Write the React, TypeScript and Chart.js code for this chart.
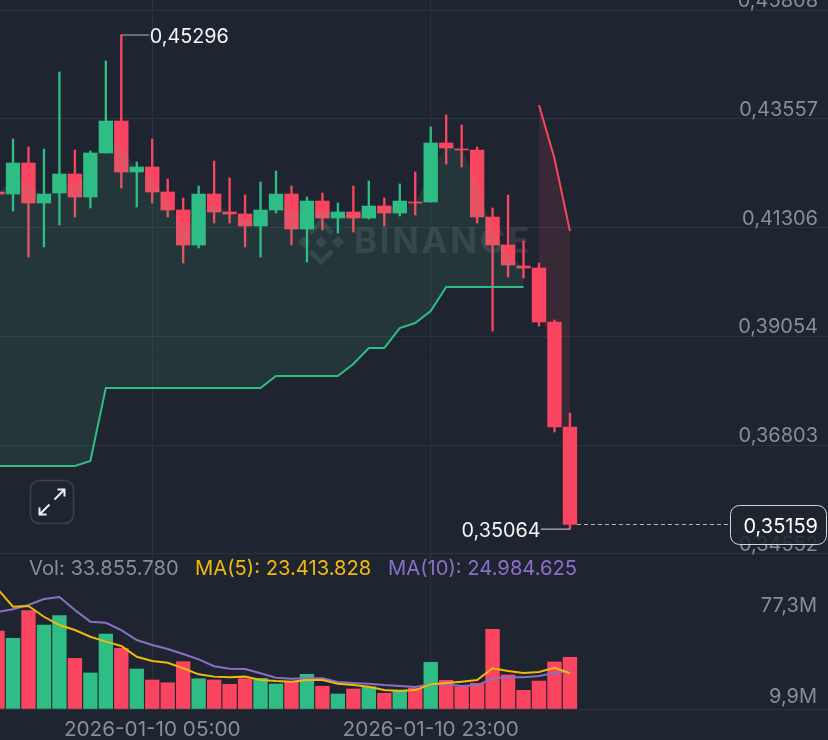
import React, { useEffect, useRef } from "react";
import { Chart, registerables } from "chart.js";

Chart.register(...registerables);

// One entry per hourly candle, oldest first.
const opens = [0.42045,0.42003,0.42645,0.41817,0.42024,0.42418,0.41941,0.42853,0.43515,0.42459,0.42563,0.42045,0.41672,0.40947,0.42003,0.41631,0.41589,0.41341,0.41672,0.42003,0.41279,0.41858,0.41506,0.41631,0.41506,0.41755,0.41610,0.41838,0.41838,0.43060,0.42935,0.42915,0.41527,0.40947,0.40512,0.40471,0.39353,0.37178];
const highs = [0.42045,0.43142,0.42977,0.42935,0.44530,0.42915,0.42894,0.44758,0.45296,0.42666,0.43142,0.42314,0.41921,0.42169,0.42687,0.42335,0.41983,0.42252,0.42480,0.42169,0.41941,0.42024,0.41817,0.42169,0.42273,0.41921,0.42211,0.42459,0.43391,0.43639,0.43432,0.42977,0.41714,0.41983,0.41030,0.40575,0.39394,0.37468];
const lows = [0.42003,0.41651,0.40699,0.40906,0.41361,0.41527,0.41714,0.42853,0.42128,0.41734,0.41817,0.41527,0.40575,0.40885,0.41403,0.41403,0.40906,0.40699,0.41610,0.40947,0.40595,0.41258,0.41196,0.41217,0.41486,0.41341,0.41548,0.41569,0.41838,0.42625,0.42563,0.41403,0.39166,0.40285,0.40264,0.39270,0.37075,0.35064];
const closes = [0.42003,0.42645,0.41817,0.42003,0.42418,0.41941,0.42853,0.43515,0.42459,0.42563,0.42045,0.41672,0.40947,0.42003,0.41631,0.41589,0.41341,0.41672,0.42003,0.41279,0.41858,0.41506,0.41631,0.41506,0.41755,0.41610,0.41858,0.41817,0.43060,0.42956,0.42915,0.41527,0.40947,0.40533,0.40471,0.39353,0.37178,0.35159];
const volumes = [51.1,46.3,64.4,55.0,61.1,33.2,23.6,49.1,39.7,26.2,19.0,17.2,31.0,19.8,19.0,16.2,19.8,20.1,16.4,17.7,22.7,14.9,9.8,13.1,14.6,10.3,12.4,13.6,30.6,18.8,14.6,16.8,52.2,22.3,12.2,18.3,30.8,33.86];
const ma5 = [78.6,67.0,67.5,60.4,55.0,51.7,47.3,44.1,41.3,34.2,31.4,30.3,26.7,22.7,21.2,20.8,21.2,19.0,18.3,17.9,19.0,19.0,16.6,15.7,14.6,12.4,11.8,12.4,16.2,17.0,17.9,19.0,26.7,24.9,23.6,24.2,27.0,23.41];
const ma10 = [63.5,65.3,68.1,72.0,73.3,64.8,57.2,56.5,51.7,45.2,41.9,39.3,36.0,32.5,28.0,26.4,26.2,23.4,20.5,19.8,20.1,20.1,17.7,17.0,16.6,15.7,15.1,14.4,16.2,16.2,15.1,15.5,20.1,20.8,20.8,21.6,23.6,24.98];
const trendUp = [0.36371,0.36371,0.36371,0.36371,0.36371,0.36371,0.36474,0.37986,0.37986,0.37986,0.37986,0.37986,0.37986,0.37986,0.37986,0.37986,0.37986,0.37986,0.38234,0.38234,0.38234,0.38234,0.38234,0.38483,0.38814,0.38814,0.39228,0.39332,0.39580,0.40077,0.40077,0.40077,0.40077,0.40077,0.40077,null,null,null];
const trendDown = [null,null,null,null,null,null,null,null,null,null,null,null,null,null,null,null,null,null,null,null,null,null,null,null,null,null,null,null,null,null,null,null,null,null,null,0.43847,0.42739,0.41237];

const priceTicks = [0.45808,0.43557,0.41306,0.39054,0.36803,0.34552];
const priceTickLabels = ["0,45808","0,43557","0,41306","0,39054","0,36803","0,34552"];
const volumeTicks = [67.3,8.05,0];
const volumeTickLabels = ["77,3M","9,9M",""];
const timeTicks = [10,28];
const timeTickLabels = ["2026-01-10 05:00","2026-01-10 23:00"];
const legendVol = "Vol: 33.855.780";
const legendMa5 = "MA(5): 23.413.828";
const legendMa10 = "MA(10): 24.984.625";
const watermark = "BINANCE";

const BG = "#1e2530";
const GREEN = "#2ebd85";
const RED = "#fb4560";
const GRID = "#2c333f";
const AXIS_TEXT = "#848e9c";
const YELLOW = "#f0b90b";
const PURPLE = "#8b6fc6";
const FONT = "Inter";

const isUp = (k: number) => closes[k] >= opens[k];
const indexes = opens.map((_, k) => k);
const bodyMid = opens.map((o, k) => (o + closes[k]) / 2);
const fmt = (v: number) => v.toFixed(5).replace(".", ",");

function bodies(up: boolean) {
  return indexes.filter((k) => isUp(k) === up).map((k) => ({ x: k, y: [Math.min(opens[k], closes[k]), Math.max(opens[k], closes[k])] }));
}
function wicks(up: boolean) {
  return indexes.filter((k) => isUp(k) === up).map((k) => ({ x: k, y: [lows[k], highs[k]] }));
}
function vols(up: boolean) {
  return indexes.filter((k) => isUp(k) === up).map((k) => ({ x: k, y: volumes[k] }));
}
const series = (arr: (number | null)[]) => arr.map((y, k) => ({ x: k, y }));

function roundRect(ctx: CanvasRenderingContext2D, x: number, y: number, w: number, h: number, r: number) {
  ctx.beginPath();
  ctx.roundRect(x, y, w, h, r);
}

const zeroPadding = (s: any) => {
  s.paddingTop = 0; s.paddingBottom = 0; s.paddingLeft = 0; s.paddingRight = 0;
};

const watermarkPlugin = {
  id: "watermark",
  beforeDatasetsDraw(chart: any) {
    const ctx: CanvasRenderingContext2D = chart.ctx;
    ctx.save();
    const c = "rgba(132,142,156,0.2)";
    ctx.fillStyle = c;
    ctx.font = `700 35px ${FONT}`;
    (ctx as any).letterSpacing = "2.6px";
    ctx.textAlign = "left";
    ctx.textBaseline = "middle";
    ctx.fillText(watermark, 354, 242);
    (ctx as any).letterSpacing = "0px";
    // logo
    const cx = 321, cy = 242;
    const diamond = (x: number, y: number, r: number) => {
      ctx.beginPath();
      ctx.moveTo(x, y - r); ctx.lineTo(x + r, y); ctx.lineTo(x, y + r); ctx.lineTo(x - r, y); ctx.closePath();
      ctx.fill();
    };
    diamond(cx, cy, 6);
    diamond(cx - 17, cy, 6);
    diamond(cx + 17, cy, 6);
    ctx.strokeStyle = c;
    ctx.lineWidth = 5;
    ctx.beginPath();
    ctx.moveTo(cx - 11, cy - 9); ctx.lineTo(cx, cy - 20); ctx.lineTo(cx + 11, cy - 9);
    ctx.moveTo(cx - 11, cy + 9); ctx.lineTo(cx, cy + 20); ctx.lineTo(cx + 11, cy + 9);
    ctx.stroke();
    ctx.restore();
  },
};

const overlayPlugin = {
  id: "overlay",
  afterDraw(chart: any) {
    const ctx: CanvasRenderingContext2D = chart.ctx;
    const x = chart.scales.x, y = chart.scales.y;
    ctx.save();
    ctx.textBaseline = "middle";
    ctx.font = `400 19.8px ${FONT}`;

    // highest price marker
    const hi = highs.indexOf(Math.max(...highs));
    const hx = x.getPixelForValue(hi), hy = y.getPixelForValue(highs[hi]);
    ctx.strokeStyle = "#b0b4ba";
    ctx.lineWidth = 1;
    ctx.beginPath(); ctx.moveTo(hx, hy); ctx.lineTo(hx + 28, hy); ctx.stroke();
    ctx.fillStyle = "#f4f5f6";
    ctx.textAlign = "left";
    ctx.fillText(fmt(highs[hi]), hx + 28.5, hy + 2);

    // lowest price marker
    const lo = lows.indexOf(Math.min(...lows));
    const lx = x.getPixelForValue(lo), ly = y.getPixelForValue(lows[lo]);
    ctx.strokeStyle = "#d5d7da";
    ctx.beginPath(); ctx.moveTo(lx, ly); ctx.lineTo(lx - 29, ly); ctx.stroke();
    ctx.textAlign = "right";
    ctx.fillText(fmt(lows[lo]), lx - 29.5, ly + 2);

    // last price line and box
    const last = closes[closes.length - 1];
    const py = y.getPixelForValue(last);
    ctx.strokeStyle = "#b4b7bd";
    ctx.setLineDash([4, 3]);
    ctx.beginPath(); ctx.moveTo(lx + 7, py); ctx.lineTo(730, py); ctx.stroke();
    ctx.setLineDash([]);
    roundRect(ctx, 730.5, 505.5, 96, 39, 9);
    ctx.fillStyle = "rgba(30,37,48,0.86)";
    ctx.fill();
    ctx.strokeStyle = "#d2d5d9";
    ctx.lineWidth = 1;
    ctx.stroke();
    ctx.fillStyle = "#ffffff";
    ctx.font = `400 20px ${FONT}`;
    ctx.fillText(fmt(last), 818, py + 2);

    // legend
    ctx.textAlign = "left";
    ctx.font = `400 20.2px ${FONT}`;
    ctx.fillStyle = AXIS_TEXT;
    ctx.fillText(legendVol, 29, 569);
    ctx.fillStyle = YELLOW;
    ctx.fillText(legendMa5, 195, 569);
    ctx.fillStyle = PURPLE;
    ctx.fillText(legendMa10, 388, 569);

    // expand button
    roundRect(ctx, 30.5, 480.5, 43, 43, 9);
    ctx.strokeStyle = "#3b404c";
    ctx.lineWidth = 1.5;
    ctx.stroke();
    ctx.strokeStyle = "#eceef0";
    ctx.lineWidth = 2;
    ctx.beginPath();
    ctx.moveTo(54.5, 499.5); ctx.lineTo(64.5, 489.5);
    ctx.moveTo(57.5, 489.5); ctx.lineTo(64.5, 489.5); ctx.lineTo(64.5, 496.5);
    ctx.moveTo(49.5, 504.5); ctx.lineTo(39.5, 514.5);
    ctx.moveTo(39.5, 507.5); ctx.lineTo(39.5, 514.5); ctx.lineTo(46.5, 514.5);
    ctx.stroke();
    ctx.restore();
  },
};

export default function App() {
  const ref = useRef<HTMLCanvasElement | null>(null);
  useEffect(() => {
    document.body.style.margin = "0";
    document.body.style.background = BG;
    document.body.style.overflow = "hidden";
    const bar = { type: "bar" as const, grouped: false, barPercentage: 1, categoryPercentage: 1, borderWidth: 0 };
    const body = { ...bar, yAxisID: "y", maxBarThickness: 13.7 };
    const wick = { ...bar, yAxisID: "y", maxBarThickness: 1.7 };
    const vol = { ...bar, yAxisID: "yVol", maxBarThickness: 13.7 };
    const line = { type: "line" as const, pointRadius: 0, tension: 0, spanGaps: false };
    const chart = new Chart(ref.current as HTMLCanvasElement, {
      data: {
        datasets: [
          { ...wick, label: "red wick", data: wicks(false), backgroundColor: RED, order: 20 },
          { ...body, label: "red body", data: bodies(false), backgroundColor: RED, order: 19 },
          { ...line, label: "mid", yAxisID: "y", data: series(bodyMid), borderWidth: 0, borderColor: "transparent", fill: false, order: 18 },
          { ...line, label: "trend up", yAxisID: "y", data: series(trendUp), borderColor: GREEN, borderWidth: 2, fill: { target: 2 }, backgroundColor: "rgba(88,179,131,0.12)", order: 10 },
          { ...line, label: "trend down", yAxisID: "y", data: series(trendDown), borderColor: RED, borderWidth: 2, fill: { target: 2 }, backgroundColor: "rgba(251,69,96,0.12)", order: 11 },
          { ...wick, label: "green wick", data: wicks(true), backgroundColor: GREEN, order: 9 },
          { ...body, label: "green body", data: bodies(true), backgroundColor: GREEN, order: 8 },
          { ...vol, label: "vol red", data: vols(false), backgroundColor: RED, order: 5 },
          { ...vol, label: "vol green", data: vols(true), backgroundColor: GREEN, order: 4 },
          { ...line, label: "MA5", yAxisID: "yVol", data: series(ma5), borderColor: YELLOW, borderWidth: 2, fill: false, order: 2 },
          { ...line, label: "MA10", yAxisID: "yVol", data: series(ma10), borderColor: PURPLE, borderWidth: 2, fill: false, order: 3 },
        ] as any,
      },
      options: {
        animation: false,
        responsive: false,
        events: [],
        layout: { padding: 0 },
        plugins: { legend: { display: false }, tooltip: { enabled: false } },
        scales: {
          x: {
            type: "linear",
            offset: false,
            min: 0.1597,
            max: 53.68,
            afterBuildTicks: (s: any) => { s.ticks = timeTicks.map((value) => ({ value })); },
            afterFit: (s: any) => { s.height = 31; zeroPadding(s); },
            grid: { color: GRID, drawTicks: false, offset: false },
            border: { display: false },
            ticks: {
              autoSkip: false, maxRotation: 0, padding: 8, color: AXIS_TEXT,
              font: { family: FONT, size: 20.7 },
              callback: (v: any) => timeTickLabels[timeTicks.indexOf(v)] ?? "",
            },
          },
          y: {
            position: "right",
            min: 0.31339,
            max: 0.46021,
            afterBuildTicks: (s: any) => { s.ticks = priceTicks.map((value) => ({ value })); },
            afterFit: (s: any) => { s.width = 0; zeroPadding(s); },
            grid: { color: GRID, drawTicks: false },
            border: { display: false },
            ticks: {
              mirror: true, padding: -10, labelOffset: -9, color: AXIS_TEXT,
              font: { family: FONT, size: 20 },
              callback: (v: any) => priceTickLabels[priceTicks.indexOf(v)] ?? "",
            },
          },
          yVol: {
            position: "right",
            min: 0,
            max: 464.3,
            afterBuildTicks: (s: any) => { s.ticks = volumeTicks.map((value) => ({ value })); },
            afterFit: (s: any) => { s.width = 0; zeroPadding(s); },
            grid: { color: (c: any) => (c.tick && c.tick.value === 0 ? GRID : "transparent"), drawTicks: false },
            border: { display: false },
            ticks: {
              mirror: true, padding: -11, color: AXIS_TEXT,
              font: { family: FONT, size: 20 },
              callback: (v: any) => volumeTickLabels[volumeTicks.indexOf(v)] ?? "",
            },
          },
        },
      } as any,
      plugins: [watermarkPlugin, overlayPlugin] as any,
    } as any);
    return () => chart.destroy();
  }, []);
  return (
    <div style={{ width: 828, height: 740, background: BG }}>
      <canvas ref={ref} width={828} height={740} style={{ display: "block", width: 828, height: 740 }} />
    </div>
  );
}
